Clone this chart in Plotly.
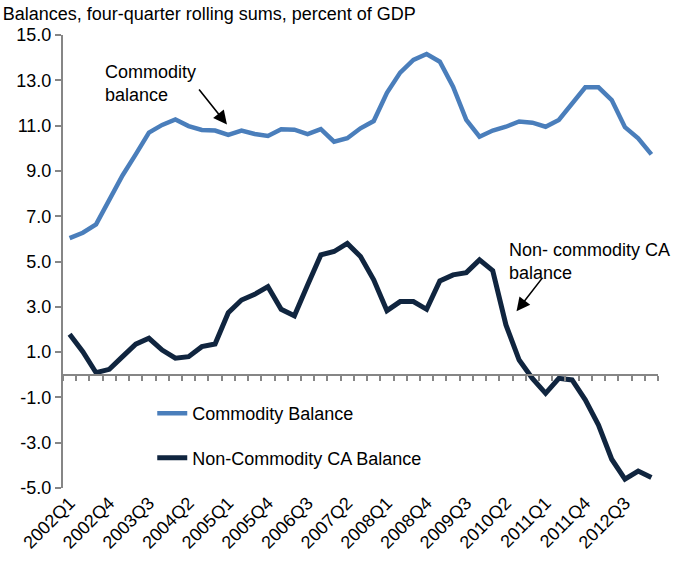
import plotly.graph_objects as go

quarters = [f"{y}Q{q}" for y in range(2002, 2014) for q in range(1, 5)][:45]
tick_labels = quarters[::3]

commodity = [6.03, 6.27, 6.64, 7.72, 8.8, 9.73, 10.69, 11.03, 11.27, 10.98,
             10.81, 10.78, 10.59, 10.78, 10.63, 10.54, 10.84, 10.82, 10.62, 10.84,
             10.29, 10.44, 10.88, 11.2, 12.45, 13.34, 13.9, 14.16, 13.82, 12.72,
             11.25, 10.51, 10.78, 10.95, 11.18, 11.13, 10.95, 11.25, 11.99, 12.69,
             12.69, 12.13, 10.93, 10.44, 9.73]

non_commodity = [1.79, 1.02, 0.09, 0.24, 0.8, 1.35, 1.61, 1.09, 0.73, 0.8,
                 1.24, 1.36, 2.74, 3.3, 3.55, 3.89, 2.89, 2.6, 3.96, 5.29,
                 5.44, 5.8, 5.22, 4.19, 2.83, 3.23, 3.23, 2.89, 4.14, 4.41,
                 4.51, 5.07, 4.6, 2.2, 0.65, -0.16, -0.82, -0.16, -0.23, -1.11,
                 -2.22, -3.73, -4.61, -4.25, -4.54]

y_ticks = [-5, -3, -1, 1, 3, 5, 7, 9, 11, 13, 15]

FONT = "Liberation Sans, Arial, sans-serif"
GRAY = "#868686"
FS = 18

fig = go.Figure()
fig.add_trace(go.Scatter(x=quarters, y=commodity, mode="lines", name="Commodity Balance",
                         line=dict(color="#4A7EBB", width=4.5), legendgroup="a"))
fig.add_trace(go.Scatter(x=quarters, y=non_commodity, mode="lines", name="Non-Commodity CA Balance",
                         line=dict(color="#10253F", width=5), legendgroup="b"))
# helper trace for the zero-line axis
fig.add_trace(go.Scatter(x=quarters, y=commodity, xaxis="x2", mode="lines",
                         line=dict(width=0), opacity=0, showlegend=False, hoverinfo="skip"))

fig.update_layout(
    width=675, height=562,
    margin=dict(l=63, r=17, t=35, b=74),
    paper_bgcolor="white", plot_bgcolor="white",
    font=dict(family=FONT, size=FS, color="black"),
    title=dict(text="Balances, four-quarter rolling sums, percent of GDP",
               x=0.004, xref="container", xanchor="left",
               y=0.976, yref="container", yanchor="middle",
               font=dict(family=FONT, size=FS, color="black")),
    showlegend=True,
    legend=dict(x=0.15, y=0.205, xanchor="left", yanchor="top",
                bgcolor="rgba(0,0,0,0)", tracegroupgap=18,
                font=dict(family=FONT, size=FS, color="black")),
    xaxis=dict(type="category", range=[-0.5, 44.5], tickvals=tick_labels, ticktext=tick_labels,
               tickangle=-45, showline=False, showgrid=False, ticks="", zeroline=False,
               automargin=False, tickfont=dict(family=FONT, size=FS, color="black")),
    xaxis2=dict(type="category", overlaying="x", anchor="free", position=0.25,
                range=[-0.5, 44.5], showticklabels=False, showgrid=False,
                showline=True, linecolor=GRAY, linewidth=2,
                ticks="outside", tickson="boundaries", ticklen=5, tickcolor=GRAY, tickwidth=1.5,
                dtick=1),
    yaxis=dict(range=[-5, 15], tickvals=y_ticks, ticktext=[f"{v:.1f}" for v in y_ticks],
               showgrid=False, zeroline=False, showline=True, linecolor=GRAY, linewidth=2,
               ticks="outside", ticklen=6, tickcolor=GRAY, tickwidth=1.5,
               automargin=False, tickfont=dict(family=FONT, size=FS, color="black")),
)

ann_font = dict(family=FONT, size=FS, color="black")
fig.add_annotation(x=2.5, y=13.9, xref="x", yref="y", text="Commodity<br>balance",
                   showarrow=False, xanchor="left", yanchor="top", align="left", font=ann_font)
fig.add_annotation(x=11.9, y=11.05, ax=9.7, ay=12.66, xref="x", yref="y", axref="x", ayref="y",
                   text="", showarrow=True, arrowhead=2, arrowsize=1.7, arrowwidth=1.6,
                   arrowcolor="black")
fig.add_annotation(x=33.05, y=6.05, xref="x", yref="y", text="Non- commodity CA<br>balance",
                   showarrow=False, xanchor="left", yanchor="top", align="left", font=ann_font)
fig.add_annotation(x=33.8, y=2.8, ax=35.8, ay=4.31, xref="x", yref="y", axref="x", ayref="y",
                   text="", showarrow=True, arrowhead=2, arrowsize=1.7, arrowwidth=1.6,
                   arrowcolor="black")

fig.write_html("out.html", post_script="document.body.style.margin='0';",
               config={"displayModeBar": False})
